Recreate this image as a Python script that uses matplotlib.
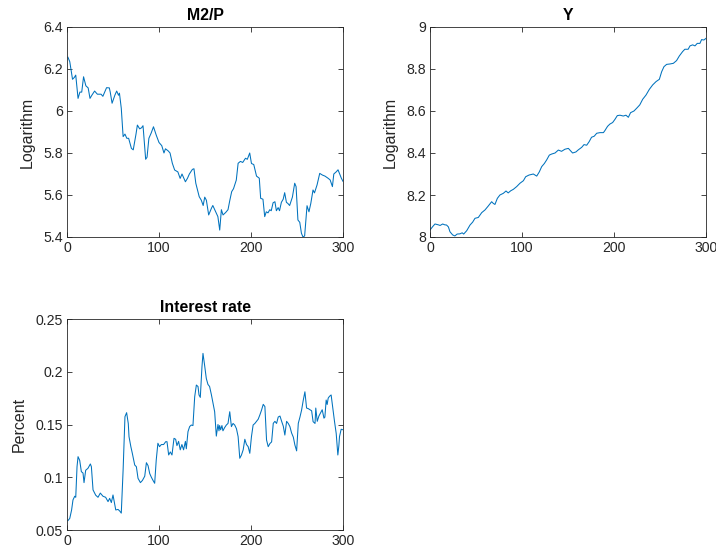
import matplotlib
matplotlib.use("Agg")
import matplotlib.pyplot as plt

plt.rcParams['font.family'] = ['Liberation Sans', 'DejaVu Sans']

# ---- M2/P (log) ----
m2p_t = [1, 3, 6, 8, 9.5, 12, 14, 16, 18, 20.5, 23, 25, 27, 30, 33, 37, 39, 43, 46, 47, 49, 52, 54, 56, 57, 59,
         61, 63, 65, 67, 70, 72, 75, 76.5, 79, 81, 82.6, 83, 85.5, 87, 89, 91.5, 94, 97, 100, 103, 105.4, 107,
         110, 112, 114.5, 117, 120.5, 123, 125, 128.7, 131, 133, 136.3, 138, 140, 143.7, 146, 148, 149.7, 151.5,
         154, 157, 158.5, 161.6, 164, 166, 167.8, 169.6, 172.5, 175, 177, 179, 181, 184, 186, 188.5, 191, 194,
         196, 198.6, 200.5, 203, 206, 209, 210.5, 213, 214.9, 216.6, 218.5, 220.4, 222, 224, 226, 227.6, 229.5,
         231, 233, 235, 236.6, 238.5, 240, 242, 245, 247.5, 249, 251, 253, 254.8, 256.5, 258.3, 260.9, 263, 265,
         267.4, 269, 271.8, 274.7, 277.6, 280.4, 283.7, 286, 288.5, 290, 292.8, 294.6, 296.4, 298.2, 300]
m2p_v = [6.256, 6.235, 6.151, 6.16, 6.171, 6.06, 6.09, 6.09, 6.163, 6.12, 6.11, 6.06, 6.075, 6.095, 6.08, 6.08,
         6.07, 6.111, 6.11, 6.09, 6.037, 6.075, 6.095, 6.075, 6.085, 6.013,
         5.878, 5.89, 5.87, 5.87, 5.822, 5.815, 5.89, 5.933, 5.915, 5.92, 5.93, 5.91, 5.77, 5.78, 5.87, 5.895,
         5.925, 5.885, 5.85, 5.835, 5.80, 5.82, 5.81, 5.80, 5.751, 5.719, 5.71, 5.679, 5.70, 5.663, 5.68, 5.70,
         5.722, 5.725, 5.656, 5.592, 5.575, 5.55, 5.59, 5.575, 5.505, 5.537, 5.55, 5.52, 5.497, 5.433, 5.53,
         5.505, 5.517, 5.53, 5.575, 5.616, 5.63, 5.671, 5.751, 5.76, 5.755, 5.775, 5.77, 5.80, 5.75, 5.745, 5.69,
         5.68, 5.584, 5.58, 5.497, 5.52, 5.515, 5.53, 5.525, 5.563, 5.568, 5.525, 5.54, 5.525, 5.565, 5.58, 5.611,
         5.565, 5.56, 5.55, 5.59, 5.656, 5.64, 5.481, 5.47, 5.418, 5.40, 5.405, 5.549, 5.52, 5.56, 5.624, 5.61,
         5.648, 5.703, 5.695, 5.69, 5.68, 5.672, 5.64, 5.70, 5.711, 5.72, 5.70, 5.68, 5.665]

# ---- Y (log) ----
y_t = [0, 3, 5.4, 9, 11, 13.8, 16, 18, 20, 21.7, 24.6, 27, 29.5, 32.5, 35, 36.6, 39.9, 43.5, 46.4, 48.9, 52.5,
       56.2, 59.8, 63.4, 67, 68.8, 70.6, 73.2, 76, 79.7, 82.6, 85, 87.7, 90.6, 94.2, 97.8, 101.5, 104, 107.6,
       112.3, 116, 118.8, 121.4, 124.3, 126.8, 129.7, 132.2, 135.9, 139.5, 143, 146.7, 150.4, 155, 158.6, 161.2,
       164.9, 167.4, 170.3, 173, 175.6, 178.5, 181.2, 184.8, 188.5, 190, 193, 195.6, 198.5, 201, 203.6, 206.5,
       210.1, 213, 215.6, 218, 221.7, 224.6, 228, 231.2, 234.8, 238.4, 242, 245.7, 249.3, 251.8, 254.3, 257.2,
       260.9, 264.5, 268, 271, 274.6, 277, 280.6, 282.6, 285.5, 288, 290.5, 293.4, 295.2, 297.7, 300]
y_v = [8.033, 8.05, 8.062, 8.058, 8.055, 8.062, 8.058, 8.057, 8.048, 8.025, 8.01, 8.005, 8.014, 8.015, 8.02,
       8.014, 8.03, 8.057, 8.071, 8.089, 8.093, 8.116, 8.129, 8.148, 8.168, 8.16, 8.155, 8.184, 8.20, 8.208,
       8.219, 8.21, 8.22, 8.227, 8.24, 8.256, 8.268, 8.287, 8.295, 8.30, 8.29, 8.31, 8.335, 8.35, 8.367, 8.39,
       8.395, 8.40, 8.414, 8.408, 8.418, 8.422, 8.40, 8.405, 8.415, 8.427, 8.44, 8.437, 8.454, 8.475, 8.48,
       8.494, 8.497, 8.497, 8.506, 8.527, 8.538, 8.545, 8.56, 8.578, 8.58, 8.576, 8.58, 8.57, 8.592, 8.60,
       8.613, 8.629, 8.656, 8.676, 8.703, 8.724, 8.74, 8.751, 8.787, 8.811, 8.822, 8.824, 8.827, 8.84, 8.862,
       8.883, 8.894, 8.894, 8.91, 8.915, 8.91, 8.922, 8.922, 8.94, 8.938, 8.946]

# ---- Interest rate ----
r_t = [1, 3, 5, 6.5, 8.4, 9.5, 10.9, 12, 13.8, 15.6, 17.4, 18.5, 20.3, 22.8, 25.4, 26.5, 28.3, 31.2, 33.7, 36.2,
       39.1, 42, 44.6, 46.4, 48.2, 50, 51.1, 53, 55.5, 57.3, 59, 61, 63, 64.8, 66.6, 67.4, 69.4, 71, 73.6, 75.4,
       77.2, 79.8, 82, 84.5, 86.3, 88.1, 89.9, 91.7, 93.5, 95.3, 97, 98.8, 100.6, 102.5, 105, 107.3, 108.7,
       110.5, 112.3, 114.1, 116.3, 118.1, 119.5, 121.3, 123.1, 124.9, 126.7, 128.7, 129.7, 131.5, 133.3, 135.1,
       136.9, 138.8, 140.6, 142.4, 143.5, 144.9, 146.7, 147.8, 149.6, 151.4, 153.2, 155, 157, 158.7, 160.5,
       162.3, 164.1, 165.2, 165.9, 167, 168.4, 169.5, 171.3, 173.2, 175, 176.9, 178.7, 180.5, 182.3, 184.2,
       186, 187.8, 189.6, 191.5, 193.3, 195.1, 196.9, 198.7, 200.5, 202.3, 204.2, 206, 207.8, 209.6, 211.4,
       213.3, 215.1, 216.9, 218.7, 220.6, 222.4, 224.2, 226, 227.8, 229.6, 231.5, 233.3, 235.1, 236.8, 238.7,
       240.5, 242.3, 244.1, 246, 247.7, 249.6, 251.4, 253.2, 255, 256.8, 258.6, 260.4, 262.3, 264.1, 265.9,
       267.5, 269.6, 270.4, 272, 273.8, 275.6, 277.4, 279.3, 280.3, 281.7, 282.8, 283.9, 285.3, 287.1, 288.9,
       290.8, 292.6, 294.4, 295.5, 296.2, 298, 300]
r_v = [0.0589, 0.061, 0.069, 0.0785, 0.082, 0.081, 0.110, 0.1195, 0.116, 0.1053, 0.104, 0.0949, 0.1066, 0.1085,
       0.1126, 0.110, 0.088, 0.083, 0.081, 0.085, 0.082, 0.081, 0.0769, 0.080, 0.076, 0.0832, 0.078, 0.069,
       0.0695, 0.068, 0.066, 0.107, 0.1574, 0.1612, 0.151, 0.1385, 0.129, 0.1227, 0.1116, 0.110, 0.099, 0.0949,
       0.097, 0.101, 0.1138, 0.111, 0.1035, 0.100, 0.097, 0.0943, 0.1164, 0.1322, 0.129, 0.131, 0.131, 0.1337,
       0.1337, 0.1211, 0.124, 0.1211, 0.1369, 0.136, 0.130, 0.134, 0.126, 0.131, 0.126, 0.134, 0.127, 0.1432,
       0.148, 0.1495, 0.149, 0.1763, 0.1874, 0.186, 0.178, 0.1757, 0.2047, 0.2174, 0.206, 0.1937, 0.188, 0.186,
       0.178, 0.170, 0.1621, 0.139, 0.150, 0.144, 0.149, 0.145, 0.149, 0.144, 0.147, 0.1495, 0.151, 0.1621,
       0.148, 0.151, 0.1495, 0.146, 0.1385, 0.118, 0.121, 0.126, 0.136, 0.131, 0.129, 0.1227, 0.1385, 0.1495,
       0.151, 0.153, 0.155, 0.159, 0.1635, 0.1691, 0.167, 0.1353, 0.129, 0.132, 0.1335, 0.1511, 0.153, 0.151,
       0.1571, 0.158, 0.153, 0.1484, 0.140, 0.153, 0.151, 0.148, 0.142, 0.138, 0.1306, 0.125, 0.1511, 0.157,
       0.1637, 0.173, 0.181, 0.1656, 0.165, 0.164, 0.163, 0.1527, 0.151, 0.1656, 0.153, 0.158, 0.161, 0.164,
       0.156, 0.157, 0.1732, 0.169, 0.175, 0.1767, 0.178, 0.1656, 0.1527, 0.1416, 0.1211, 0.130, 0.1385,
       0.1455, 0.145]

titles = ["M2/P", "Y", "Interest rate"]
ylabels = ["Logarithm", "Logarithm", "Percent"]
xticks = [0, 100, 200, 300]
yticks_m2p = [5.4, 5.6, 5.8, 6.0, 6.2, 6.4]
yticklabels_m2p = ["5.4", "5.6", "5.8", "6", "6.2", "6.4"]
yticks_y = [8.0, 8.2, 8.4, 8.6, 8.8, 9.0]
yticklabels_y = ["8", "8.2", "8.4", "8.6", "8.8", "9"]
yticks_r = [0.05, 0.10, 0.15, 0.20, 0.25]
yticklabels_r = ["0.05", "0.1", "0.15", "0.2", "0.25"]

W, H = 716, 554
fig = plt.figure(figsize=(W / 100, H / 100), dpi=100)

def px_axes(x0, y0, x1, y1):
    return fig.add_axes([x0 / W, 1 - y1 / H, (x1 - x0) / W, (y1 - y0) / H])

ax1 = px_axes(67, 27, 343, 237)
ax2 = px_axes(430, 27, 706, 237)
ax3 = px_axes(67, 319, 343, 530)

specs = [
    (ax1, m2p_t, m2p_v, yticks_m2p, yticklabels_m2p, (5.4, 6.4)),
    (ax2, y_t, y_v, yticks_y, yticklabels_y, (8.0, 9.0)),
    (ax3, r_t, r_v, yticks_r, yticklabels_r, (0.05, 0.25)),
]
edge = "#262626"
for i, (ax, t, v, yt, ytl, ylim) in enumerate(specs):
    ax.plot(t, v, color="#0072BD", lw=0.75)
    ax.set_xlim(0, 300)
    ax.set_ylim(*ylim)
    ax.set_xticks(xticks)
    ax.set_xticklabels([str(x) for x in xticks])
    ax.set_yticks(yt)
    ax.set_yticklabels(ytl)
    ax.tick_params(direction="in", top=True, right=True, length=3.5, width=0.6,
                   colors=edge, labelsize=10.2, pad=3)
    for s in ax.spines.values():
        s.set_linewidth(0.6)
        s.set_color(edge)
    ax.set_title(titles[i], fontsize=11.4, fontweight="bold", pad=5, color="black")
    ax.set_ylabel(ylabels[i], fontsize=11.5, color=edge, labelpad=6)

fig.savefig("out.png", dpi=100)
